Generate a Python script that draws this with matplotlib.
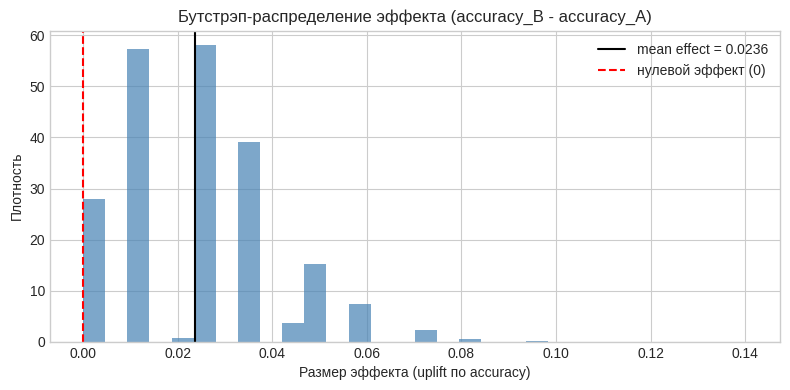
import matplotlib
matplotlib.use("Agg")
import matplotlib.pyplot as plt
import numpy as np

# bootstrap histogram, 30 bins over [0, 0.1404], density heights
bin_edges = np.linspace(0.0, 0.1404, 31)
bin_heights = [27.9, 0, 57.3, 0, 0.8, 58.0, 0, 39.1, 0, 3.7,
               15.3, 0, 7.4, 0, 0, 2.3, 0, 0.6, 0, 0,
               0.2, 0, 0, 0, 0, 0, 0, 0, 0, 0]
mean_effect = 0.0236

plt.style.use("seaborn-v0_8-whitegrid")
plt.rcParams["font.family"] = ["Liberation Sans", "DejaVu Sans"]

fig, ax = plt.subplots(figsize=(7.9, 3.9), dpi=100)

ax.hist(bin_edges[:-1], bins=bin_edges, weights=bin_heights,
        color="steelblue", alpha=0.7)
ax.axvline(mean_effect, color="black", linewidth=1.5,
           label=f"mean effect = {mean_effect:.4f}")
ax.axvline(0, color="red", linestyle="--", linewidth=1.5,
           label="нулевой эффект (0)")

ax.set_title("Бутстрэп-распределение эффекта (accuracy_B - accuracy_A)")
ax.set_xlabel("Размер эффекта (uplift по accuracy)")
ax.set_ylabel("Плотность")
ax.legend(loc="upper right")

plt.tight_layout(pad=0.7)
plt.savefig("out.png", dpi=100)
